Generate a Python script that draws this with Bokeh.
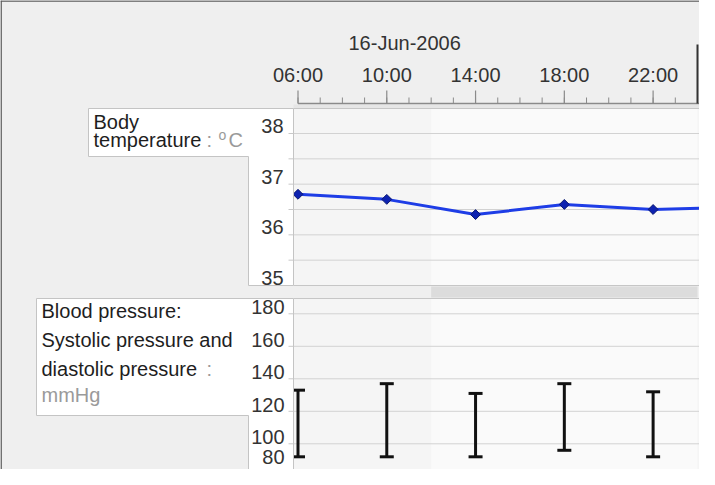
import numpy as np
import pandas as pd
from bokeh.plotting import figure
from bokeh.models import Range1d
from bokeh.core.properties import value
from bokeh.embed import file_html
from bokeh.resources import INLINE

# ---------------- data ----------------
date_label = "16-Jun-2006"
reading_times = ["2006-06-16 06:00", "2006-06-16 10:00", "2006-06-16 14:00",
                 "2006-06-16 18:00", "2006-06-16 22:00"]
temp_times = reading_times + ["2006-06-17 02:00"]
temperature = [36.8, 36.7, 36.4, 36.6, 36.5, 36.55]
systolic = [133, 137, 131, 137, 132]
diastolic = [92, 92, 92, 96, 92]

major_tick_times = ["2006-06-16 06:00", "2006-06-16 10:00", "2006-06-16 14:00",
                    "2006-06-16 18:00", "2006-06-16 22:00"]
major_tick_labels = ["06:00", "10:00", "14:00", "18:00", "22:00"]
minor_tick_times = [f"2006-06-16 {h:02d}:00" for h in range(6, 24)]
day_boundary = ["2006-06-17 00:00"]
highlight_period = ["2006-06-16 12:00", "2006-06-17 00:00"]

temp_ticks = [38, 37, 36, 35]
temp_tick_labels = ["38", "37", "36", "35"]
temp_grid = [38, 37.5, 37, 36.5, 36, 35.5]
bp_ticks = [180, 160, 140, 120, 100, 80]
bp_tick_labels = ["180", "160", "140", "120", "100", "80"]
bp_grid = [180, 160, 140, 120, 100]

# ---------------- layout (canvas pixels, y down) ----------------
T = pd.to_datetime
W, H = 699, 469
X_ANCHOR_PX = 297.5          # 06:00
PX_PER_HOUR = (697 - 297.5) / 18.0
t_anchor = T("2006-06-16 06:00")
x_start = t_anchor - pd.Timedelta(hours=X_ANCHOR_PX / PX_PER_HOUR)
x_end = t_anchor + pd.Timedelta(hours=(W - X_ANCHOR_PX) / PX_PER_HOUR)


def lin_range(v_a, px_a, v_b, px_b):
    k = (v_a - v_b) / (px_b - px_a)  # value per pixel
    return Range1d(start=v_a - (H - px_a) * k, end=v_a + px_a * k), k


temp_range, temp_k = lin_range(38, 133, 35, 285)
bp_range, bp_k = lin_range(180, 313.3, 100, 443.3)

FONT = value("Liberation Sans")
FS = value("20px")
MID = dict(text_baseline="middle", text_font=FONT)

p = figure(width=W, height=H, x_range=Range1d(x_start, x_end), y_range=temp_range,
           x_axis_location=None, y_axis_location=None, toolbar_location=None,
           output_backend="svg", min_border=0, title=None,
           background_fill_color="#efefef", border_fill_color="#efefef",
           outline_line_color=None)
p.grid.visible = False
p.extra_x_ranges = {"px": Range1d(0, W)}
p.extra_y_ranges = {"px": Range1d(H, 0), "bp": bp_range}

PX = dict(x_range_name="px", y_range_name="px")
hl0, hl1 = T(highlight_period[0]), T(highlight_period[1])

# outer frame border (top / left)
p.segment(x0=[0, 0.6], x1=[W, 0.6], y0=[0.6, 0], y1=[0.6, H],
          line_color="#5a5a5a", line_width=1.5, **PX)

# panel backgrounds
for top, bot in [(108, 285), (298, H + 5)]:
    p.quad(left=[293], right=[W + 5], top=[top], bottom=[bot],
           fill_color="#f5f5f5", line_color=None, **PX)
    p.quad(left=[hl0], right=[hl1], top=[top], bottom=[bot],
           fill_color="#fafafa", line_color=None, y_range_name="px")
# strip between panels
p.quad(left=[hl0], right=[hl1], top=[286], bottom=[297],
       fill_color="#dcdcdc", line_color=None, y_range_name="px")
p.quad(left=[293], right=[W + 5], top=[104], bottom=[107.5],
       fill_color="#e6e6e6", line_color=None, **PX)

# grid lines
p.segment(x0=[288] * len(temp_grid), x1=[W + 5] * len(temp_grid), y0=temp_grid, y1=temp_grid,
          line_color="#d2d2d2", line_width=1, x_range_name="px")
p.segment(x0=[288] * len(bp_grid), x1=[W + 5] * len(bp_grid), y0=bp_grid, y1=bp_grid,
          line_color="#d2d2d2", line_width=1, x_range_name="px", y_range_name="bp")
# panel border lines
p.segment(x0=[293] * 3, x1=[W + 5] * 3, y0=[108, 285, 298], y1=[108, 285, 298],
          line_color="#c6c6c6", line_width=1, **PX)

# temperature
p.line(T(temp_times), temperature, line_color="#1e3de6", line_width=3)
p.scatter(T(temp_times), temperature, marker="square", angle=np.pi / 4, size=7,
          fill_color="#0d22b0", line_color="#0a1870", line_width=1)

# blood pressure
p.segment(x0=T(reading_times), x1=T(reading_times), y0=diastolic, y1=systolic,
          line_color="#111111", line_width=3, y_range_name="bp")
p.scatter(list(T(reading_times)) * 2, systolic + diastolic, marker="dash", size=14,
          line_color="#111111", line_width=3, y_range_name="bp")

# label boxes (L-shaped)
p.patch([88, 293, 293, 248, 248, 88], [108, 108, 285, 285, 156, 156],
        fill_color="white", line_color="#c4c4c4", line_width=1, **PX)
p.patch([36, 293, 293, 248, 248, 36], [298, 298, H + 5, H + 5, 415, 415],
        fill_color="white", line_color="#c4c4c4", line_width=1, **PX)
# small tick marks at grid lines
p.segment(x0=[288] * len(temp_grid), x1=[293] * len(temp_grid), y0=temp_grid, y1=temp_grid,
          line_color="#c8c8c8", line_width=1, x_range_name="px")
p.segment(x0=[288] * len(bp_grid), x1=[293] * len(bp_grid), y0=bp_grid, y1=bp_grid,
          line_color="#c8c8c8", line_width=1, x_range_name="px", y_range_name="bp")

# y tick labels (sitting on their grid line, kept inside the panel)
bp_label_y = [max(v, bp_range.start + 6.5 * bp_k) for v in bp_ticks]
p.text(x=[283] * len(temp_ticks), y=temp_ticks, text=temp_tick_labels, x_range_name="px",
       text_align="right", y_offset=-7.5, text_font_size=FS, text_color="#333333", **MID)
p.text(x=[284] * len(bp_ticks), y=bp_label_y, text=bp_tick_labels, x_range_name="px",
       y_range_name="bp", text_align="right", y_offset=-6.5,
       text_font_size=FS, text_color="#333333", **MID)

# time axis (top)
p.segment(x0=[T(major_tick_times[0])], x1=[x_end + pd.Timedelta(hours=1)], y0=[103], y1=[103],
          line_color="#8a8a8a", line_width=1.5, y_range_name="px")
p.segment(x0=T(minor_tick_times), x1=T(minor_tick_times), y0=[97] * len(minor_tick_times),
          y1=[103] * len(minor_tick_times), line_color="#8a8a8a", line_width=1, y_range_name="px")
p.segment(x0=T(major_tick_times), x1=T(major_tick_times), y0=[90] * len(major_tick_times),
          y1=[103] * len(major_tick_times), line_color="#8a8a8a", line_width=1.2, y_range_name="px")
p.segment(x0=T(day_boundary), x1=T(day_boundary), y0=[44], y1=[103],
          line_color="#333333", line_width=2, y_range_name="px")
p.text(x=T(major_tick_times), y=[74] * len(major_tick_times), text=major_tick_labels,
       y_range_name="px", text_align="center", text_font_size=FS, text_color="#333333", **MID)
p.text(x=[348], y=[42], text=[date_label], text_align="left",
       text_font_size=FS, text_color="#333333", **PX, **MID)

# box texts
DARK, GREY = "#1e1e1e", "#9a9a9a"
p.text(x=[93, 93], y=[121, 139], text=["Body", "temperature"], text_align="left",
       text_font_size=FS, text_color=DARK, **PX, **MID)
p.text(x=[206, 228], y=[139, 139], text=[":", "C"], text_align="left",
       text_font_size=FS, text_color=GREY, **PX, **MID)
p.text(x=[218], y=[134], text=["o"], text_align="left",
       text_font_size=value("14px"), text_color=GREY, **PX, **MID)
p.text(x=[41, 41, 41], y=[310, 339, 368],
       text=["Blood pressure:", "Systolic pressure and", "diastolic pressure"],
       text_align="left", text_font_size=FS, text_color=DARK, **PX, **MID)
p.text(x=[206, 41], y=[368, 394], text=[":", "mmHg"], text_align="left",
       text_font_size=FS, text_color=GREY, **PX, **MID)

open("out.html", "w").write(file_html(p, INLINE))
